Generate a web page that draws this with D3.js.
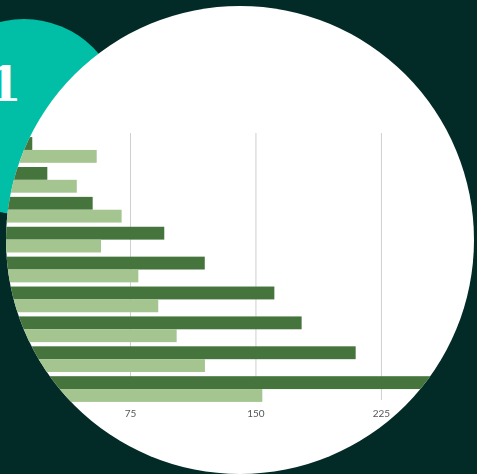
<!DOCTYPE html>
<html>
<head>
<meta charset="utf-8">
<script src="https://cdn.jsdelivr.net/npm/d3@7"></script>
<style>
  html, body { margin: 0; padding: 0; background: #022a26; }
  svg { display: block; }
</style>
</head>
<body>
<div id="chart"></div>
<script>
// bar pairs, top to bottom
const categories = ['a', 'b', 'c', 'd', 'e', 'f', 'g', 'h', 'i'];
const darkValues = [16.6, 25.6, 52.7, 95.5, 119.7, 161.3, 177.6, 209.9, 272];
const lightValues = [55.1, 43.2, 70, 57.7, 80, 91.9, 102.9, 119.8, 154.1];
const tickValues = [75, 150, 225];
const badgeText = '1';

const width = 477;
const height = 474;

const colors = {
  bg: '#022a26',
  teal: '#00bfa6',
  dark: '#44743c',
  light: '#a4c490',
  grid: '#cfcfcf',
  tick: '#555'
};

const svg = d3.select('#chart')
  .append('svg')
  .attr('width', width)
  .attr('height', height);

svg.append('rect')
  .attr('width', width)
  .attr('height', height)
  .attr('fill', colors.bg);

// teal badge circle + number
svg.append('circle')
  .attr('cx', 24)
  .attr('cy', 117)
  .attr('r', 98)
  .attr('fill', colors.teal);

svg.append('text')
  .attr('x', 5)
  .attr('y', 101)
  .attr('text-anchor', 'middle')
  .attr('fill', '#fff')
  .style('font-family', '"DejaVu Serif", serif')
  .style('font-weight', 'bold')
  .style('font-size', '48px')
  .text(badgeText);

// white lens with chart inside
const lens = { cx: 240, cy: 240, r: 234 };

svg.append('clipPath')
  .attr('id', 'lens')
  .append('circle')
  .attr('cx', lens.cx)
  .attr('cy', lens.cy)
  .attr('r', lens.r);

svg.append('circle')
  .attr('cx', lens.cx)
  .attr('cy', lens.cy)
  .attr('r', lens.r)
  .attr('fill', '#fff');

const defs = svg.append('defs');
defs.append('filter')
  .attr('id', 'soft')
  .append('feGaussianBlur')
  .attr('stdDeviation', 0.45);

const g = svg.append('g')
  .attr('clip-path', 'url(#lens)')
  .append('g')
  .attr('filter', 'url(#soft)');

const x = d3.scaleLinear()
  .domain([0, 300])
  .range([4.5, 4.5 + 300 * 1.673]);

const gridTop = 133;
const gridBottom = 400;

const y = d3.scaleBand()
  .domain(categories)
  .range([135, 404])
  .paddingInner(0.14)
  .paddingOuter(0.07);

const ySub = d3.scaleBand()
  .domain(['dark', 'light'])
  .range([0, y.bandwidth()]);

const axis = d3.axisBottom(x)
  .tickValues(tickValues)
  .tickSize(-(gridBottom - gridTop))
  .tickPadding(10);

const axisG = g.append('g')
  .attr('transform', `translate(0,${gridBottom})`)
  .call(axis);

axisG.select('.domain').remove();
axisG.selectAll('.tick line')
  .attr('stroke', colors.grid)
  .attr('stroke-width', 1);
axisG.selectAll('.tick text')
  .attr('fill', colors.tick)
  .style('font-family', 'Lato, "Open Sans", sans-serif')
  .style('font-size', '10px');

const rows = categories.map((c, i) => ({ cat: c, dark: darkValues[i], light: lightValues[i] }));

const rowG = g.append('g')
  .selectAll('g')
  .data(rows)
  .join('g')
  .attr('transform', d => `translate(0,${y(d.cat)})`);

rowG.selectAll('rect')
  .data(d => [{ key: 'dark', v: d.dark }, { key: 'light', v: d.light }])
  .join('rect')
  .attr('x', x(0))
  .attr('y', d => ySub(d.key))
  .attr('width', d => x(d.v) - x(0))
  .attr('height', ySub.bandwidth())
  .attr('fill', d => colors[d.key]);
</script>
</body>
</html>
